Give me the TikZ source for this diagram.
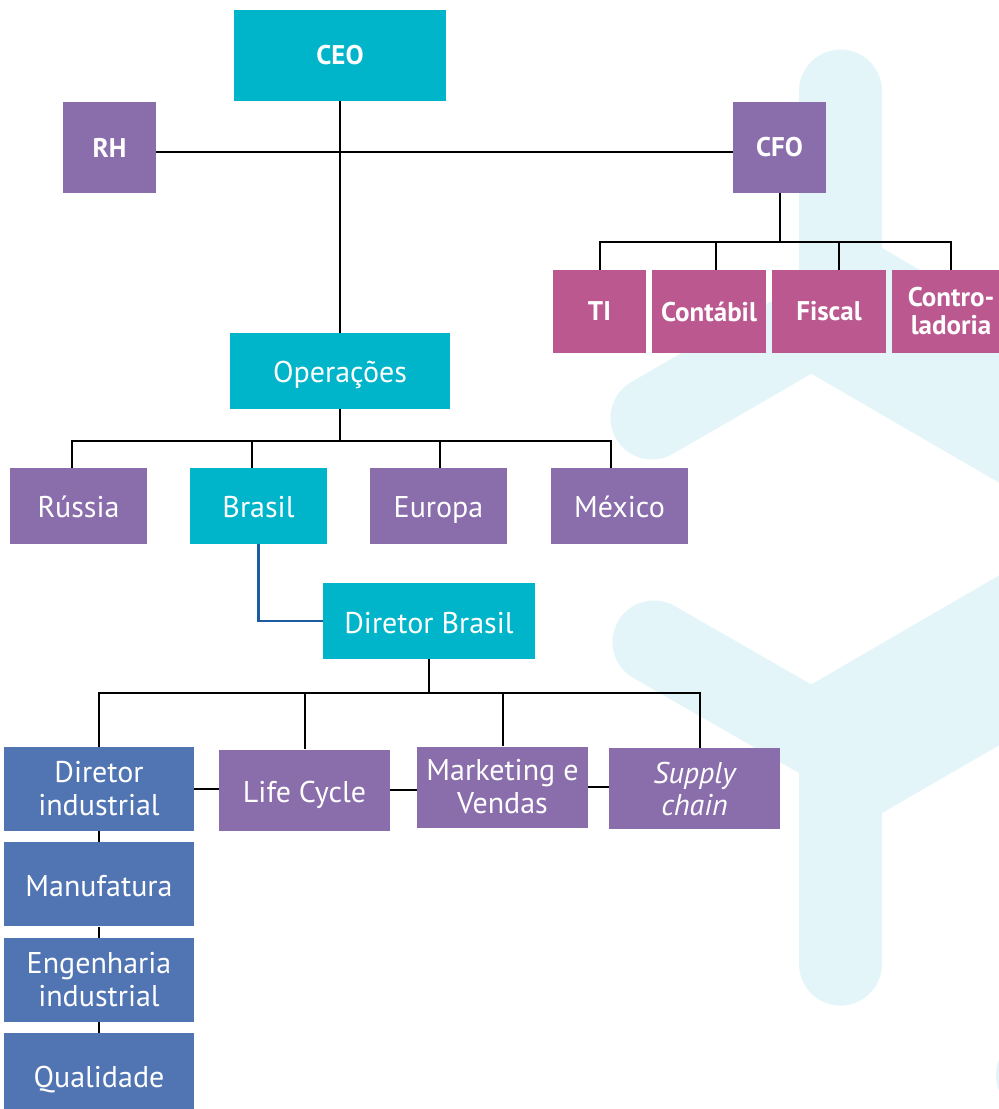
\documentclass[tikz,border=0pt]{standalone}
\usepackage{fontspec}
\setmainfont{PT Sans}
\usetikzlibrary{chains,positioning}

\definecolor{headcyan}{HTML}{00B4CA}
\definecolor{unitpurple}{HTML}{8A6DAB}
\definecolor{finmagenta}{HTML}{BB5890}
\definecolor{indblue}{HTML}{5174B3}
\definecolor{logocyan}{HTML}{E3F5F8}
\definecolor{linkblue}{HTML}{1D5C9F}

\begin{document}
\begin{tikzpicture}[
  x=1pt,y=-1pt,
  node distance=11pt,
  every node/.style={rectangle,inner sep=0pt,text=white,align=center,
    font=\fontsize{30}{33}\selectfont},
  boldtext/.style={font=\bfseries\fontsize{27}{28}\selectfont},
  oneline/.style={text height=25pt,text depth=1pt},
  cyanbox/.style={fill=headcyan},
  purplebox/.style={fill=unitpurple},
  finbox/.style={fill=finmagenta,boldtext,minimum height=83pt},
  countrybox/.style={fill=unitpurple,oneline,minimum width=137pt,minimum height=76pt},
  deptbox/.style={fill=unitpurple,minimum width=171pt,minimum height=81pt},
  colbox/.style={fill=indblue,minimum width=190pt,minimum height=84pt,on chain},
  logo/.style={draw=logocyan,line width=83pt,line cap=round,line join=round},
  link/.style={draw=black,line width=2pt},
  brlink/.style={draw=linkblue,line width=2.5pt},
  start chain=going below,
  ]
  \useasboundingbox (0,0) rectangle (999,1109);

  % watermark
  \draw[logo] (840.5,91) -- (840.5,309) -- (652,418);
  \fill[logocyan] (810,373) -- (882,248) -- (1010,322) -- (1010,489) -- cycle;
  \draw[logo] (654,642) -- (840.5,749) -- (840.5,964);
  \fill[logocyan] (812,684) -- (1010,569) -- (1010,739) -- (882,813) -- cycle;
  \fill[logocyan] (1038,1075) circle[radius=42pt];

  % top
  \node[cyanbox,boldtext,minimum width=212pt,minimum height=91pt](ceo) at (340,55.5){CEO};
  \node[purplebox,boldtext,minimum width=93pt,minimum height=91pt](rh) at (109.5,147.5){RH};
  \node[purplebox,boldtext,minimum width=93pt,minimum height=91pt](cfo) at (779.5,147.5){CFO};
  \node[finbox,minimum width=93pt](ti) at (599.5,311.5){TI};
  \node[finbox,minimum width=114pt](contabil) at (709,311.5){Contábil};
  \node[finbox,minimum width=114pt](fiscal) at (829,311.5){Fiscal};
  \node[finbox,minimum width=118pt](control) at (951,311.5){Contro-\\ladoria};

  % operations
  \node[cyanbox,oneline,minimum width=220pt,minimum height=76pt](ops) at (340,370.8){Operações};
  \node[countrybox](russia) at (78.5,505.8){Rússia};
  \node[countrybox,cyanbox](brasil) at (258.5,505.8){Brasil};
  \node[countrybox](europa) at (438.5,505.8){Europa};
  \node[countrybox](mexico) at (619.5,505.8){México};
  \node[cyanbox,oneline,minimum width=212pt,minimum height=76pt](dirbr) at (429,621){Diretor Brasil};

  % brazil
  \node[colbox](dirind) at (99,789){Diretor\\industrial};
  \node[colbox,oneline](manuf){Manufatura};
  \node[colbox](engind){Engenharia\\industrial};
  \node[colbox,oneline](qualid){Qualidade};
  \node[deptbox,oneline](lifec) at (304.5,790){Life Cycle};
  \node[deptbox](mktv) at (502.5,787){Marketing e\\Vendas};
  \node[deptbox,font=\fontsize{30}{32}\selectfont\itshape](supply) at (694.5,788.5){Supply\\chain};

  \draw[link] (ceo) -- (ops);
  \draw[link] ([yshift=-4.5pt]rh.east) -- ([yshift=-4.5pt]cfo.west);
  \draw[link] (cfo.south) -- ++(0,49) coordinate (cfobus);
  \draw[link] (cfobus) -| (ti.north)
    (cfobus) -| ([xshift=7pt]contabil.north)
    (cfobus) -| ([xshift=10pt]fiscal.north)
    (cfobus) -| (control.north);
  \draw[link] (ops.south) -- ++(0,32) coordinate (opsbus);
  \draw[link] (opsbus) -| ([xshift=-6.5pt]russia.north)
    (opsbus) -| ([xshift=-6.5pt]brasil.north)
    (opsbus) -| ([xshift=1.5pt]europa.north)
    (opsbus) -| ([xshift=-8.5pt]mexico.north);
  \draw[brlink] (brasil.south) |- (dirbr.west);
  \draw[link] (dirbr.south) -- ++(0,34) coordinate (brbus);
  \draw[link] (brbus) -| (dirind.north)
    (brbus) -| (lifec.north)
    (brbus) -| (mktv.north)
    (brbus) -| ([xshift=5.5pt]supply.north);
  \draw[link] (dirind.east) -- (dirind.east -| lifec.west)
    (lifec.east) -- (lifec.east -| mktv.west)
    (mktv.east) -- (mktv.east -| supply.west);
  \draw[link] (dirind) -- (manuf) -- (engind) -- (qualid);
\end{tikzpicture}
\end{document}
